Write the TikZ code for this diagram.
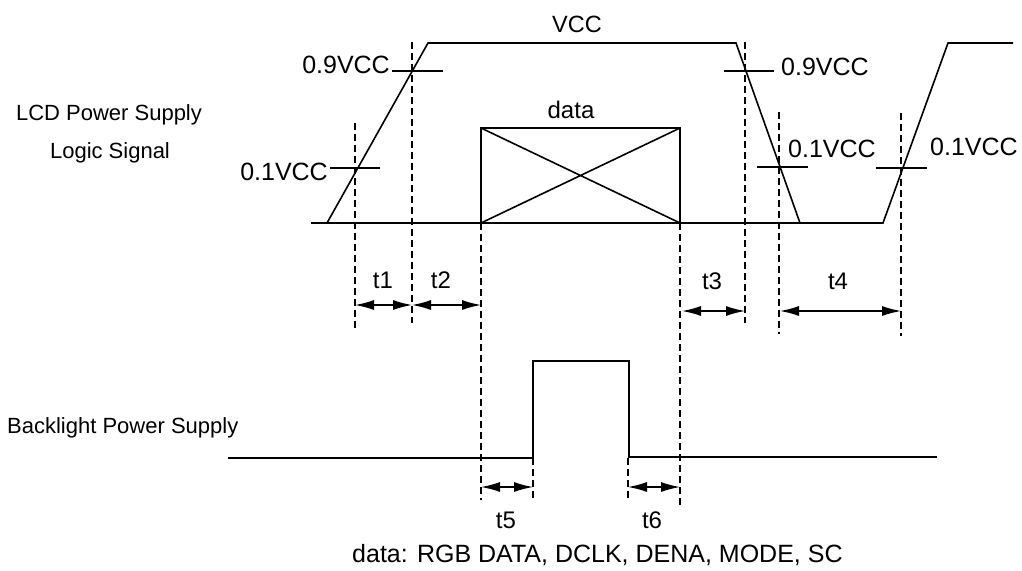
\documentclass[tikz,border=0pt]{standalone}
\usepackage{fontspec}
\setmainfont{Liberation Sans}
\usetikzlibrary{arrows.meta}
\begin{document}
\begin{tikzpicture}[x=1pt,y=-1pt,
  sig/.style={line width=1.6pt, line join=miter},
  guide/.style={line width=1.3pt, dash pattern=on 7pt off 4pt},
  tickmark/.style={line width=1.6pt},
  dim/.style={line width=1.3pt, {Latex[length=19pt,width=10pt]}-{Latex[length=19pt,width=10pt]}},
  lbl/.style={font=\fontsize{22}{26}\selectfont, inner sep=0pt},
  vlbl/.style={font=\fontsize{25}{29}\selectfont, inner sep=0pt},
  tlbl/.style={font=\fontsize{24}{28}\selectfont, inner sep=0pt}]
\useasboundingbox (0,0) rectangle (1022,570);

% guide lines (dashed)
\coordinate (g1t) at (355,123); \coordinate (g1b) at (355,328);
\coordinate (g2t) at (412,42);  \coordinate (g2b) at (412,323);
\coordinate (g3t) at (481,223); \coordinate (g3b) at (481,500);
\coordinate (g4t) at (680,223); \coordinate (g4b) at (680,505);
\coordinate (g5t) at (745,42);  \coordinate (g5b) at (745,323);
\coordinate (g6t) at (779,112); \coordinate (g6b) at (779,334);
\coordinate (g7t) at (901,113); \coordinate (g7b) at (901,336);
\coordinate (g8t) at (533,458); \coordinate (g8b) at (533,500);
\coordinate (g9t) at (628,458); \coordinate (g9b) at (628,500);
\foreach \g in {1,...,9} \draw[guide] (g\g t) -- (g\g b);

% LCD power supply / logic signal waveform
\draw[sig] (311,223) -- (800,223);
\draw[sig] (327,223) -- (428,43) -- (736,43) -- (800,223) -- (883,223) -- (948,43) -- (1013,43);

% data box
\coordinate (dA) at (481,128); \coordinate (dB) at (680,128);
\coordinate (dC) at (680,223); \coordinate (dD) at (481,223);
\draw[sig] (dA) -- (dB) -- (dC) -- (dD) -- cycle;
\draw[sig] (dA) -- (dC) (dD) -- (dB);

% threshold ticks
\draw[tickmark] (392,71) -- (443,71);
\draw[tickmark] (330,168) -- (380,168);
\draw[tickmark] (724,71) -- (774,71);
\draw[tickmark] (757,167) -- (808,167);
\draw[tickmark] (876,168) -- (927,168);

% backlight waveform
\draw[sig] (228,458) -- (533,458) -- (533,361) -- (629,361) -- (629,457) -- (937,457);

% timing arrows
\coordinate (a1) at (355,305); \coordinate (a2) at (412,305); \coordinate (a3) at (481,305);
\coordinate (a4) at (682,311); \coordinate (a5) at (745,311);
\coordinate (a6) at (780,311); \coordinate (a7) at (901,311);
\coordinate (a8) at (481,487); \coordinate (a9) at (533,487);
\coordinate (a10) at (628,487); \coordinate (a11) at (680,487);
\draw[dim] (a1) -- (a2);
\draw[dim] (a2) -- (a3);
\draw[dim] (a4) -- (a5);
\draw[dim] (a6) -- (a7);
\draw[dim] (a8) -- (a9);
\draw[dim] (a10) -- (a11);

% labels
\node[vlbl, font=\fontsize{23.5}{28}\selectfont, anchor=base] (vcc) at (577,32) {VCC};
\node[vlbl, anchor=base east] (l09a) at (390,73) {0.9VCC};
\node[vlbl, anchor=base east] (l01a) at (328,180) {0.1VCC};
\node[vlbl, anchor=base west] (l09b) at (781,75) {0.9VCC};
\node[vlbl, anchor=base west] (l01b) at (788,157) {0.1VCC};
\node[vlbl, anchor=base west] (l01c) at (930,155) {0.1VCC};
\node[tlbl, anchor=base] (data) at (571,118) {data};
\node[lbl, anchor=base] (lcd) at (109,120) {LCD Power Supply};
\node[lbl, anchor=base] (logic) at (110,158) {Logic Signal};
\node[lbl, anchor=base west] (bl) at (7,433) {Backlight Power Supply};
\node[tlbl, anchor=base] (t1) at (383,288) {t1};
\node[tlbl, anchor=base] (t2) at (441,288) {t2};
\node[tlbl, anchor=base] (t3) at (712,289) {t3};
\node[tlbl, anchor=base] (t4) at (838,289) {t4};
\node[tlbl, anchor=base] (t5) at (506,528) {t5};
\node[tlbl, anchor=base] (t6) at (652,528) {t6};
\node[tlbl, font=\fontsize{25}{29}\selectfont, anchor=base west] (note) at (352,562) {data: RGB DATA, DCLK, DENA, MODE, SC};
\end{tikzpicture}
\end{document}
